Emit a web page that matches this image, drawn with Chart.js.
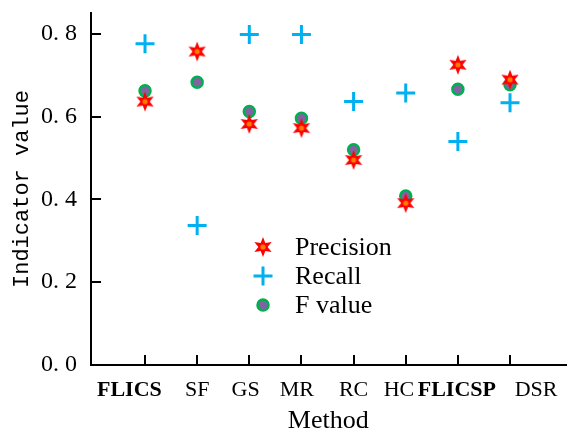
<!DOCTYPE html>
<html>
<head>
<meta charset="utf-8">
<title>Indicator value by method</title>
<script src="https://cdn.jsdelivr.net/npm/chart.js@4.4.1/dist/chart.umd.min.js"></script>
<style>
html,body{margin:0;padding:0;background:#fff;}
#wrap{width:578px;height:431px;}
</style>
</head>
<body>
<div id="wrap"><canvas id="methodChart" width="578" height="431"></canvas></div>
<script>
const methods = ["FLICS","SF","GS","MR","RC","HC","FLICSP","DSR"];
const precision = [0.636,0.757,0.582,0.572,0.495,0.391,0.725,0.689];
const recall = [0.776,0.337,0.798,0.798,0.636,0.657,0.540,0.633];
const fValue = [0.662,0.683,0.612,0.596,0.520,0.408,0.666,0.677];
const yTicks = [0,0.2,0.4,0.6,0.8];

// method names are not all centred under their tick marks (category units)
const labelShift = [-0.30,0,-0.07,-0.09,0,-0.13,-0.02,0.50];
const boldNames = ["FLICS","FLICSP"];

const xMin = -1.036, xMax = 8.064;

function pts(arr){
return arr.map((v,i)=>({x:i,y:v}));
}

// red six-pointed star with an orange centre
function makeStar(){
const c=document.createElement("canvas");
c.width=22;c.height=22;
const g=c.getContext("2d");
g.beginPath();
for(let k=0;k<12;k++){
const r=k%2===0?10:4.6;
const a=-Math.PI/2+k*Math.PI/6;
g.lineTo(11+r*Math.cos(a),11+r*Math.sin(a));
}
g.closePath();
g.fillStyle="#ff0000";
g.fill();
g.beginPath();
g.arc(11,11,2.6,0,Math.PI*2);
g.fillStyle="#ff7a00";
g.fill();
return c;
}

// keep the axes from reserving room for label overhang
function noOverhang(s){
s.paddingTop=0;s.paddingBottom=0;s.paddingLeft=0;s.paddingRight=0;
}

const legendSpot={x:263,y:247,gap:29,textX:295};

const markerLegend={
id:"markerLegend",
afterDatasetsDraw(chart){
const ctx=chart.ctx;
chart.data.datasets.forEach((ds,k)=>{
const y=legendSpot.y+k*legendSpot.gap;
ctx.save();
ctx.fillStyle=ds.backgroundColor;
ctx.strokeStyle=ds.borderColor;
ctx.lineWidth=ds.borderWidth;
Chart.helpers.drawPoint(ctx,{pointStyle:ds.pointStyle,radius:ds.pointRadius,borderWidth:ds.borderWidth,rotation:0},legendSpot.x,y);
ctx.fillStyle="#000";
ctx.font="26px 'Liberation Serif'";
ctx.textAlign="left";
ctx.textBaseline="middle";
ctx.fillText(ds.label,legendSpot.textX,y+1);
ctx.restore();
});
}
};

const axisGrid={drawOnChartArea:false,drawTicks:true,tickLength:-10,color:"#000",lineWidth:2};

const methodChart=new Chart(
document.getElementById("methodChart"),
{
type:"scatter",
data:{
datasets:[
{
label:"Precision",
data:pts(precision),
pointStyle:makeStar(),
pointRadius:10,
backgroundColor:"#ff0000",
borderColor:"#ff0000",
borderWidth:0,
order:0
},
{
label:"Recall",
data:pts(recall),
pointStyle:"cross",
pointRadius:9.5,
backgroundColor:"#00b0f0",
borderColor:"#00b0f0",
borderWidth:3,
order:2
},
{
label:"F value",
data:pts(fValue),
pointStyle:"circle",
pointRadius:5.5,
backgroundColor:"#8064a2",
borderColor:"#00b050",
borderWidth:2.5,
order:1
}
]
},
options:{
responsive:false,
animation:false,
layout:{padding:{top:13,left:0,right:0,bottom:0}},
plugins:{legend:{display:false},tooltip:{enabled:false}},
scales:{
x:{
type:"linear",
position:"bottom",
min:xMin,max:xMax,
afterBuildTicks:s=>{s.ticks=methods.map((m,i)=>({value:i}));},
ticks:{callback:()=>"",autoSkip:false,maxRotation:0},
grid:axisGrid,
border:{display:true,color:"#000",width:2},
afterFit:s=>{s.height=0;noOverhang(s);}
},
xl:{
type:"linear",
position:"bottom",
min:xMin,max:xMax,
afterBuildTicks:s=>{s.ticks=methods.map((m,i)=>({value:i+labelShift[i]}));},
ticks:{
callback:(v,i)=>methods[i],
autoSkip:false,
maxRotation:0,
padding:12,
color:"#000",
font:c=>({family:"Liberation Serif",size:22,weight:boldNames.includes(methods[c.index])?"bold":"normal"})
},
grid:{display:false,drawTicks:false},
border:{display:false},
title:{display:true,text:"Method",color:"#000",font:{family:"Liberation Serif",size:26,lineHeight:1},padding:{top:0,bottom:-3}},
afterFit:s=>{s.height=66;noOverhang(s);}
},
y:{
min:0,max:0.85,
afterBuildTicks:s=>{s.ticks=yTicks.map(v=>({value:v}));},
ticks:{callback:v=>v.toFixed(1).replace(".",". "),padding:24,color:"#000",font:{family:"Liberation Serif",size:24}},
grid:axisGrid,
border:{display:true,color:"#000",width:2},
title:{display:true,text:"Indicator value",color:"#000",font:{family:"Liberation Mono",size:22,lineHeight:1},padding:{top:11,bottom:0}},
afterFit:s=>{s.width=91;noOverhang(s);}
}
}
},
plugins:[markerLegend]
});
</script>
</body>
</html>
